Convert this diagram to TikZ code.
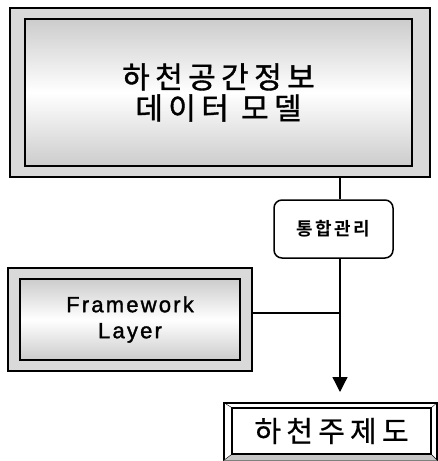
\documentclass[tikz,border=0pt]{standalone}
\usepackage{fontspec}
\usepackage{tikz}
\usetikzlibrary{arrows.meta}
\newfontfamily\kor[LetterSpace=18,FakeBold=1.2]{Noto Sans CJK KR}
\newfontfamily\korl[LetterSpace=18,FakeBold=0.5]{Noto Sans CJK KR}
\newfontfamily\korb[LetterSpace=14]{Noto Sans CJK KR Bold}
\newfontfamily\lat[LetterSpace=10,FakeBold=1.5]{Liberation Sans}
\tikzset{
  frameout/.style={draw,line width=1.2pt,fill=gray!30},
  framein/.style={draw,line width=2pt,top color=gray!40,bottom color=gray!40,middle color=white,align=center},
  link/.style={line width=1.3pt},
}
\begin{document}
\begin{tikzpicture}[x=1pt,y=-1pt]
\useasboundingbox (0,0) rectangle (438,461);
% top block
\node [frameout,minimum width=420pt,minimum height=169pt] (modelout) at (220,92.5){};
\node [framein,minimum width=387pt,minimum height=147pt,font=\kor\fontsize{30}{31}\selectfont] (model) at (218.5,92.5){하천공간정보\\데이터 모델};
% middle
\node [draw,line width=1.5pt,rounded corners=8pt,fill=white,minimum width=119pt,minimum height=58pt,font=\korb\fontsize{18}{20}\selectfont] (merge) at (333.5,229){통합관리};
% framework block
\node [frameout,minimum width=244pt,minimum height=103pt] (fwout) at (130,319.5){};
\node [framein,minimum width=220pt,minimum height=81pt,font=\lat\fontsize{22}{26}\selectfont] (fw) at (130,319.5){Framework\\Layer};
% bottom block
\node [draw,line width=1.2pt,fill=white,minimum width=213pt,minimum height=57pt] (themeout) at (330.5,431.5){};
\fill[gray!45] (themeout.south west) -- (themeout.south east) -- (431,454) -- (232,454) -- cycle;
\node [draw,line width=1.5pt,minimum width=199pt,minimum height=46pt,font=\korl\fontsize{29}{30}\selectfont] (theme) at (331.5,431){하천주제도};
\draw (themeout.north west) -- (theme.north west);
\draw (themeout.north east) -- (theme.north east);
\draw (themeout.south west) -- (theme.south west);
\draw (themeout.south east) -- (theme.south east);
% links
\coordinate (trunk) at (340,313);
\coordinate (tip) at (340,392);
\draw[link] (modelout.south -| trunk) -- (merge.north -| trunk);
\draw[link,-{Triangle[length=15pt,width=15pt]}] (merge.south -| trunk) -- (tip);
\draw[link] (fwout.east |- trunk) -- (trunk);
\end{tikzpicture}
\end{document}
